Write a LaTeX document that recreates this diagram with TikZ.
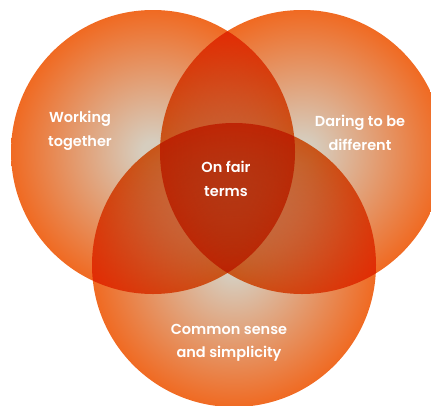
\documentclass[tikz,border=0pt]{standalone}
\usepackage{fontspec}
\newfontfamily\labelfont{Poppins SemiBold}

\definecolor{discrim}{HTML}{F06A22}
\definecolor{discmid}{HTML}{D6CDBE}
\pgfdeclareradialshading{glow}{\pgfpoint{0bp}{0bp}}{color(0bp)=(discmid); color(2bp)=(discmid); color(25bp)=(discrim); color(50bp)=(discrim)}

\begin{document}
\begin{tikzpicture}[x=1pt,y=-1pt]
\tikzstyle{every node} = [text=white,align=center,font=\labelfont\fontsize{14.5}{23.5}\selectfont]
\tikzstyle{disc} = [circle,minimum size=284pt,inner sep=0pt,shading=glow,blend mode=multiply]
\clip (0,0) rectangle (431,405);

% the three values
\node [disc] (work) at (153,152) {};
\node [disc] (dare) at (302,152) {};
\node [disc] (sense) at (234,265) {};

\node (worklabel) at (80,131) {Working\\together};
\node (darelabel) at (360,133) {Daring to be\\different};
\node (senselabel) at (229,343) {Common sense\\and simplicity};
\node (fairlabel) at (226,179) {On fair\\terms};
\end{tikzpicture}
\end{document}
